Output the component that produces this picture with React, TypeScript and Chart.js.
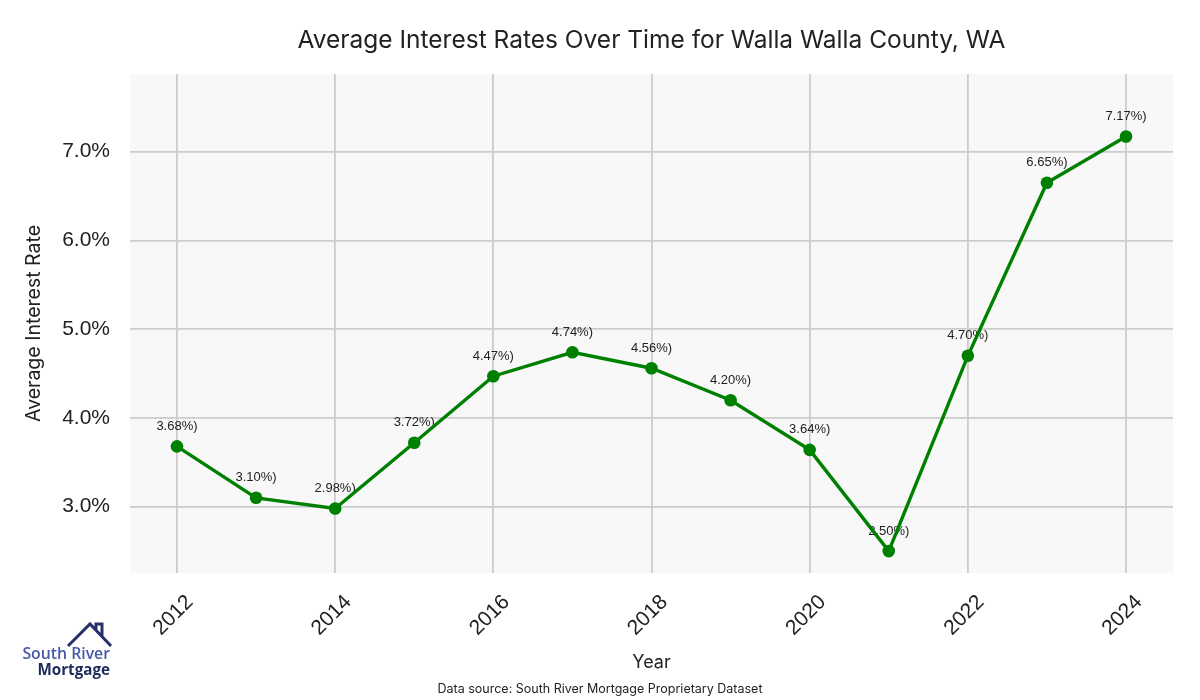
import React, { useEffect, useRef } from "react";
import { Chart, registerables } from "chart.js";

Chart.register(...registerables);

const TITLE = "Average Interest Rates Over Time for Walla Walla County, WA";
const X_TITLE = "Year";
const Y_TITLE = "Average Interest Rate";
const SOURCE = "Data source: South River Mortgage Proprietary Dataset";
const YEARS = [2012, 2013, 2014, 2015, 2016, 2017, 2018, 2019, 2020, 2021, 2022, 2023, 2024];
const RATES = [3.68, 3.1, 2.98, 3.72, 4.47, 4.74, 4.56, 4.2, 3.64, 2.5, 4.7, 6.65, 7.17];
const X_TICKS = [2012, 2014, 2016, 2018, 2020, 2022, 2024];
const Y_TICKS = [3, 4, 5, 6, 7];

const bgPlugin = {
  id: "plotBg",
  beforeDraw(chart: any) {
    const { ctx, chartArea } = chart;
    ctx.save();
    ctx.fillStyle = "#f8f8f8";
    ctx.fillRect(chartArea.left, chartArea.top, chartArea.right - chartArea.left, chartArea.bottom - chartArea.top);
    ctx.restore();
  },
  beforeDatasetsDraw(chart: any) {
    const { ctx } = chart;
    const meta = chart.getDatasetMeta(0);
    ctx.save();
    ctx.font = "13px 'Liberation Sans', Arial, sans-serif";
    ctx.fillStyle = "#222222";
    ctx.textAlign = "center";
    ctx.textBaseline = "middle";
    meta.data.forEach((pt: any, i: number) => {
      ctx.fillText(RATES[i].toFixed(2) + "%)", pt.x, pt.y - 20);
    });
    ctx.restore();
  },
};

export default function App() {
  const ref = useRef<HTMLCanvasElement>(null);
  useEffect(() => {
    if (!ref.current) return;
    const chart = new Chart(ref.current, {
      type: "line",
      data: {
        datasets: [
          {
            data: YEARS.map((y, i) => ({ x: y, y: RATES[i] })),
            borderColor: "#008000",
            backgroundColor: "#008000",
            borderWidth: 3.4,
            pointRadius: 6.3,
            pointBorderWidth: 0,
            pointBackgroundColor: "#008000",
            tension: 0,
          },
        ],
      },
      plugins: [bgPlugin],
      options: {
        responsive: false,
        animation: false,
        layout: { padding: { top: 74, right: 27, bottom: 0, left: 0 } },
        plugins: { legend: { display: false }, title: { display: false }, tooltip: { enabled: false } },
        scales: {
          x: {
            type: "linear",
            min: 2011.406,
            max: 2024.594,
            afterFit(scale: any) {
              scale.height = 127;
            },
            afterBuildTicks(scale: any) {
              scale.ticks = X_TICKS.map((v) => ({ value: v }));
            },
            grid: { color: "#cccccc", lineWidth: 1.8, drawTicks: false },
            border: { display: false },
            ticks: {
              minRotation: 45,
              maxRotation: 45,
              padding: 17,
              labelOffset: 13,
              color: "#222222",
              font: { family: "'Liberation Sans', Arial, sans-serif", size: 21 },
              callback: (v: any) => String(v),
            },
            title: {
              display: true,
              text: X_TITLE,
              color: "#222222",
              font: { family: "Inter, sans-serif", size: 18 },
              padding: { top: 0, bottom: 27 },
            },
          },
          y: {
            type: "linear",
            min: 2.253,
            max: 7.875,
            afterFit(scale: any) {
              scale.width = 130;
            },
            afterBuildTicks(scale: any) {
              scale.ticks = Y_TICKS.map((v) => ({ value: v }));
            },
            grid: { color: "#cccccc", lineWidth: 1.8, drawTicks: false },
            border: { display: false },
            ticks: {
              padding: 20,
              color: "#222222",
              font: { family: "'Liberation Sans', Arial, sans-serif", size: 21 },
              callback: (v: any) => Number(v).toFixed(1) + "%",
            },
            title: {
              display: true,
              text: Y_TITLE,
              color: "#222222",
              font: { family: "Inter, sans-serif", size: 19.5 },
              padding: { top: 22, bottom: 0 },
            },
          },
        },
      },
    } as any);
    return () => chart.destroy();
  }, []);

  return (
    <div style={{ position: "fixed", left: 0, top: 0, width: 1200, height: 700, background: "#fff", overflow: "hidden" }}>
      <canvas ref={ref} width={1200} height={700} style={{ position: "absolute", left: 0, top: 0, width: 1200, height: 700 }} />
      <div
        style={{
          position: "absolute",
          left: 130,
          width: 1043,
          top: 25,
          textAlign: "center",
          fontFamily: "Inter, sans-serif",
          fontSize: 24.5,
          lineHeight: "28px",
          color: "#222",
          whiteSpace: "nowrap",
        }}
      >
        {TITLE}
      </div>
      <div
        style={{
          position: "absolute",
          left: 0,
          width: 1200,
          top: 681,
          textAlign: "center",
          fontFamily: "Inter, sans-serif",
          fontSize: 12.5,
          lineHeight: "15px",
          color: "#222",
        }}
      >
        {SOURCE}
      </div>
      <svg style={{ position: "absolute", left: 0, top: 610 }} width={130} height={80} viewBox="0 610 130 80">
        <path d="M68 646 L90 624 L111 646 M96 630 V624 H102 V637" fill="none" stroke="#27306b" strokeWidth={3} />
        <text x={110} y={659} textAnchor="end" fontFamily="'Open Sans', sans-serif" fontWeight={600} fontSize={15.8} fill="#4658a8">
          South River
        </text>
        <text x={110} y={675} textAnchor="end" fontFamily="'Open Sans', sans-serif" fontWeight={700} fontSize={15.2} fill="#1f2a5c">
          Mortgage
        </text>
      </svg>
    </div>
  );
}
